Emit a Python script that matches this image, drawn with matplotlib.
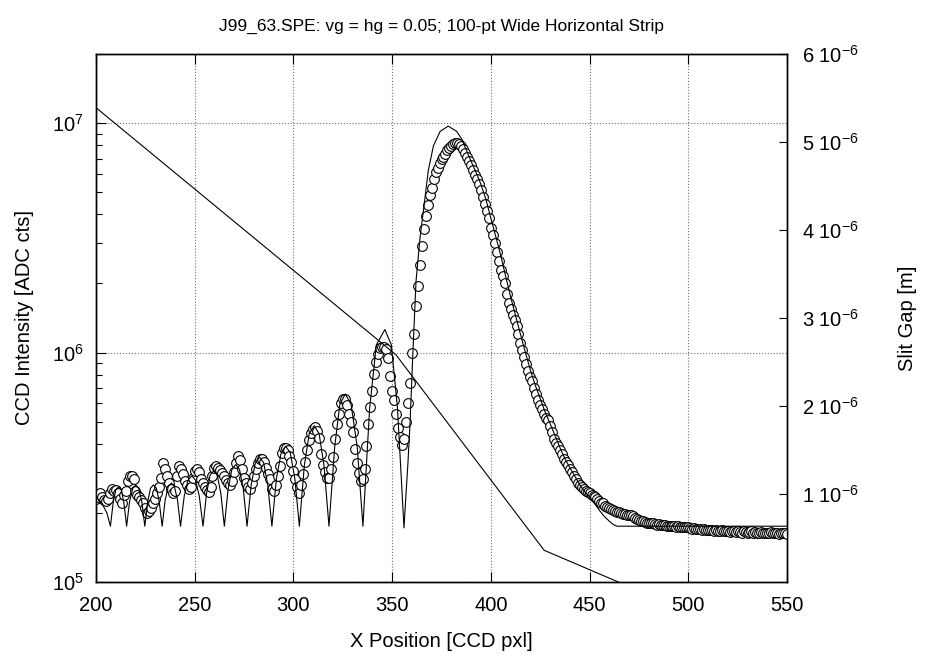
import matplotlib
matplotlib.use('Agg')
import matplotlib.pyplot as plt
import matplotlib.ticker as mticker
import numpy as np

plt.rcParams['font.family'] = ['Liberation Sans', 'DejaVu Sans']
plt.rcParams['mathtext.fontset'] = 'custom'
plt.rcParams['mathtext.rm'] = 'Liberation Sans'
plt.rcParams['mathtext.it'] = 'Liberation Sans'
plt.rcParams['mathtext.bf'] = 'Liberation Sans'

# measured CCD intensity, one value per pixel from 200 to 550 (units of 1e5 ADC cts)
x_start = 200
intensity_e5 = [
    2.30, 2.35, 2.45, 2.35, 2.28, 2.25, 2.30, 2.45, 2.55, 2.50,
    2.52, 2.45, 2.30, 2.20, 2.40, 2.50, 2.75, 2.90, 2.90, 2.80,
    2.50, 2.40, 2.35, 2.27, 2.20, 2.10, 2.00, 2.03, 2.10, 2.20,
    2.30, 2.45, 2.60, 2.85, 3.30, 3.10, 2.90, 2.70, 2.55, 2.45,
    2.50, 2.90, 3.20, 3.10, 2.95, 2.75, 2.65, 2.55, 2.60, 2.85,
    3.05, 3.10, 3.00, 2.80, 2.70, 2.60, 2.52, 2.47, 2.60, 2.90,
    3.15, 3.20, 3.15, 3.07, 2.97, 2.90, 2.78, 2.69, 2.65, 2.75,
    3.00, 3.30, 3.55, 3.40, 3.10, 2.85, 2.70, 2.60, 2.55, 2.70,
    2.90, 3.10, 3.30, 3.45, 3.45, 3.35, 3.15, 2.95, 2.80, 2.55,
    2.50, 2.65, 2.90, 3.20, 3.65, 3.85, 3.85, 3.75, 3.55, 3.35,
    3.05, 2.80, 2.60, 2.45, 2.65, 2.95, 3.35, 3.75, 4.15, 4.45,
    4.65, 4.75, 4.55, 4.25, 3.60, 3.25, 3.00, 2.85, 2.85, 3.10,
    3.50, 4.20, 4.90, 5.40, 6.00, 6.30, 6.30, 5.90, 5.40, 5.00,
    4.50, 3.80, 3.30, 2.97, 2.75, 2.80, 3.10, 3.90, 4.90, 5.80,
    6.80, 8.10, 9.10, 9.90, 10.5, 10.6, 10.6, 10.4, 9.50, 7.90,
    6.80, 6.20, 5.40, 4.70, 4.30, 3.95, 4.20, 5.00, 6.00, 7.40,
    10.0, 12.0, 16.0, 19.5, 24.0, 29.0, 34.5, 39.5, 44.0, 48.5,
    52.0, 57.0, 61.0, 64.0, 67.0, 69.5, 71.5, 73.5, 76.0, 78.0,
    79.5, 81.0, 81.5, 81.5, 81.0, 79.5, 77.0, 74.0, 71.0, 68.5,
    65.5, 62.5, 59.5, 57.0, 54.0, 51.0, 47.5, 44.5, 41.5, 38.5,
    35.0, 32.5, 30.0, 27.5, 25.0, 23.0, 21.5, 20.0, 18.0, 16.5,
    15.5, 14.5, 13.8, 13.0, 12.0, 11.0, 10.3, 9.60, 8.90, 8.30,
    7.80, 7.50, 7.00, 6.60, 6.20, 5.90, 5.70, 5.40, 5.20, 5.10,
    4.80, 4.50, 4.20, 4.05, 3.90, 3.75, 3.60, 3.45, 3.35, 3.25,
    3.10, 3.00, 2.90, 2.80, 2.70, 2.65, 2.60, 2.55, 2.50, 2.47,
    2.43, 2.40, 2.37, 2.35, 2.30, 2.25, 2.22, 2.20, 2.15, 2.12,
    2.10, 2.07, 2.05, 2.03, 2.02, 2.01, 1.99, 1.98, 1.97, 1.96,
    1.96, 1.95, 1.93, 1.90, 1.88, 1.87, 1.85, 1.84, 1.82, 1.81,
    1.80, 1.81, 1.80, 1.79, 1.78, 1.79, 1.78, 1.77, 1.78, 1.76,
    1.76, 1.75, 1.76, 1.75, 1.74, 1.75, 1.73, 1.74, 1.74, 1.73,
    1.74, 1.72, 1.71, 1.72, 1.70, 1.71, 1.70, 1.69, 1.70, 1.68,
    1.69, 1.68, 1.68, 1.67, 1.68, 1.67, 1.66, 1.68, 1.66, 1.67,
    1.66, 1.65, 1.67, 1.66, 1.65, 1.66, 1.65, 1.64, 1.66, 1.65,
    1.64, 1.65, 1.66, 1.64, 1.65, 1.63, 1.64, 1.65, 1.63, 1.64,
    1.64, 1.63, 1.65, 1.63, 1.64, 1.63, 1.62, 1.64, 1.63, 1.63,
    1.62,
]

# diffraction model curve (units of 1e5 ADC cts)
model_x = [200, 203, 205.5, 207.3,
           208.7, 210.0, 211.4, 212.8, 214.1, 215.5,
           217.0, 218.6, 220.1, 221.6, 223.2, 224.7,
           226.2, 227.6, 229.1, 230.6, 232.0, 233.5,
           235.0, 236.6, 238.2, 239.7, 241.3, 242.8,
           244.7, 246.6, 248.5, 250.4, 252.3, 254.2,
           256.0, 257.8, 259.6, 261.4, 263.2, 265.0,
           266.9, 268.8, 270.8, 272.7, 274.6, 276.5,
           278.6, 280.7, 282.8, 284.9, 287.0, 289.1,
           291.4, 293.8, 296.1, 298.4, 300.7, 303.0,
           305.5, 308.0, 310.5, 313.0, 315.5, 318.0,
           320.9, 323.5, 326.3, 329.2, 332.3, 335.2,
           338.6, 342.0, 346.3, 349.6, 352.7, 356.0,
           357.0, 358.0, 359.1, 360.4, 362.1, 364.1, 366.2, 368.3, 370.9,
           374.3, 378.4, 382.7, 385.3, 387.8, 390.0, 392.5, 395.0, 397.5,
           400.0, 402.5, 405.0, 407.5, 410.0, 412.5, 415.0, 417.5, 420.0,
           422.5, 425.0, 427.5, 430.0, 432.5, 435.0, 437.5, 440.0, 442.5,
           445.0, 447.5, 450.0, 452.5, 455.0, 457.5, 460.0, 462.0, 464.0,
           550.0]
model_e5 = [2.35, 2.20, 2.00, 1.75,
            2.22, 2.52, 2.60, 2.52, 2.22, 1.75,
            2.24, 2.56, 2.65, 2.56, 2.24, 1.75,
            2.24, 2.56, 2.65, 2.56, 2.24, 1.75,
            2.27, 2.61, 2.70, 2.61, 2.27, 1.75,
            2.37, 2.78, 2.90, 2.78, 2.37, 1.75,
            2.44, 2.92, 3.05, 2.92, 2.44, 1.75,
            2.54, 3.09, 3.25, 3.09, 2.54, 1.75,
            2.65, 3.31, 3.50, 3.31, 2.65, 1.75,
            2.83, 3.66, 3.90, 3.66, 2.83, 1.75,
            3.21, 4.43, 4.80, 4.43, 3.21, 1.75,
            3.88, 5.94, 6.60, 5.94, 3.88, 1.75,
            5.72, 10.8, 12.6, 10.8, 5.72, 1.72,
            2.40, 3.30, 5.00, 9.50, 20.5, 31.5, 44.0, 62.0, 79.5,
            92.0, 97.0, 92.0, 85.0, 75.5, 68.0, 61.0, 54.0, 46.5,
            38.5, 32.0, 26.5, 21.5, 17.5, 14.5, 12.0, 10.0, 8.40,
            7.20, 6.30, 5.50, 4.90, 4.35, 3.85, 3.45, 3.15, 2.90,
            2.65, 2.48, 2.35, 2.20, 2.05, 1.93, 1.84, 1.78, 1.75,
            1.75]

# slit gap along the strip (units of 1e-6 m)
gap_x = [200, 352, 427, 550]
gap_um = [5.39, 2.58, 0.36, -0.82]

right_ticks = [1, 2, 3, 4, 5, 6]

x_data = np.arange(x_start, x_start + len(intensity_e5))
y_data = np.array(intensity_e5) * 1e5
y_model = np.array(model_e5) * 1e5
y_gap = np.array(gap_um) * 1e-6

fs = 14.5

fig = plt.figure(figsize=(9.25, 6.57), dpi=100)
ax = fig.add_axes([0.1038, 0.1142, 0.7470, 0.8036])

ax.plot(x_data, y_data, 'o', mfc='white', mec='black', ms=7.0, mew=0.8, zorder=3)
ax.plot(model_x, y_model, '-', color='black', lw=0.8, zorder=4)

ax.set_yscale('log')
ax.set_xlim(200, 550)
ax.set_ylim(1e5, 2e7)
ax.set_xticks(np.arange(200, 551, 50))
ax.yaxis.set_minor_formatter(mticker.NullFormatter())
ax.grid(True, which='major', linestyle=':', color='#707070', linewidth=0.8)
ax.tick_params(which='major', direction='in', length=7, width=0.8, top=True, right=False, labelsize=fs)
ax.tick_params(which='minor', direction='in', length=4, width=0.8, top=False, right=False)
ax.tick_params(axis='x', which='minor', bottom=False, top=False)
ax.tick_params(axis='x', which='major', pad=10)
ax.tick_params(axis='y', which='major', pad=9)
ax.set_xlabel('X Position [CCD pxl]', fontsize=fs, labelpad=12)
ax.set_ylabel('CCD Intensity [ADC cts]', fontsize=fs, labelpad=13)
ax.set_title('J99_63.SPE: vg = hg = 0.05; 100-pt Wide Horizontal Strip', fontsize=12.5, pad=17)

ax2 = ax.twinx()
ax2.plot(gap_x, y_gap, '-', color='black', lw=0.8)
ax2.set_ylim(0, 6e-6)
ax2.set_yticks([t * 1e-6 for t in right_ticks])
ax2.set_yticklabels([r'$\mathdefault{%d\ 10^{-6}}$' % t for t in right_ticks])
ax2.tick_params(direction='in', length=6, width=0.8, labelsize=fs, pad=11)
ax2.set_ylabel('Slit Gap [m]', fontsize=fs, labelpad=28)
ax2.set_xlim(200, 550)

for a in (ax, ax2):
    for s in a.spines.values():
        s.set_linewidth(1.0)

fig.savefig('out.png', dpi=100)
